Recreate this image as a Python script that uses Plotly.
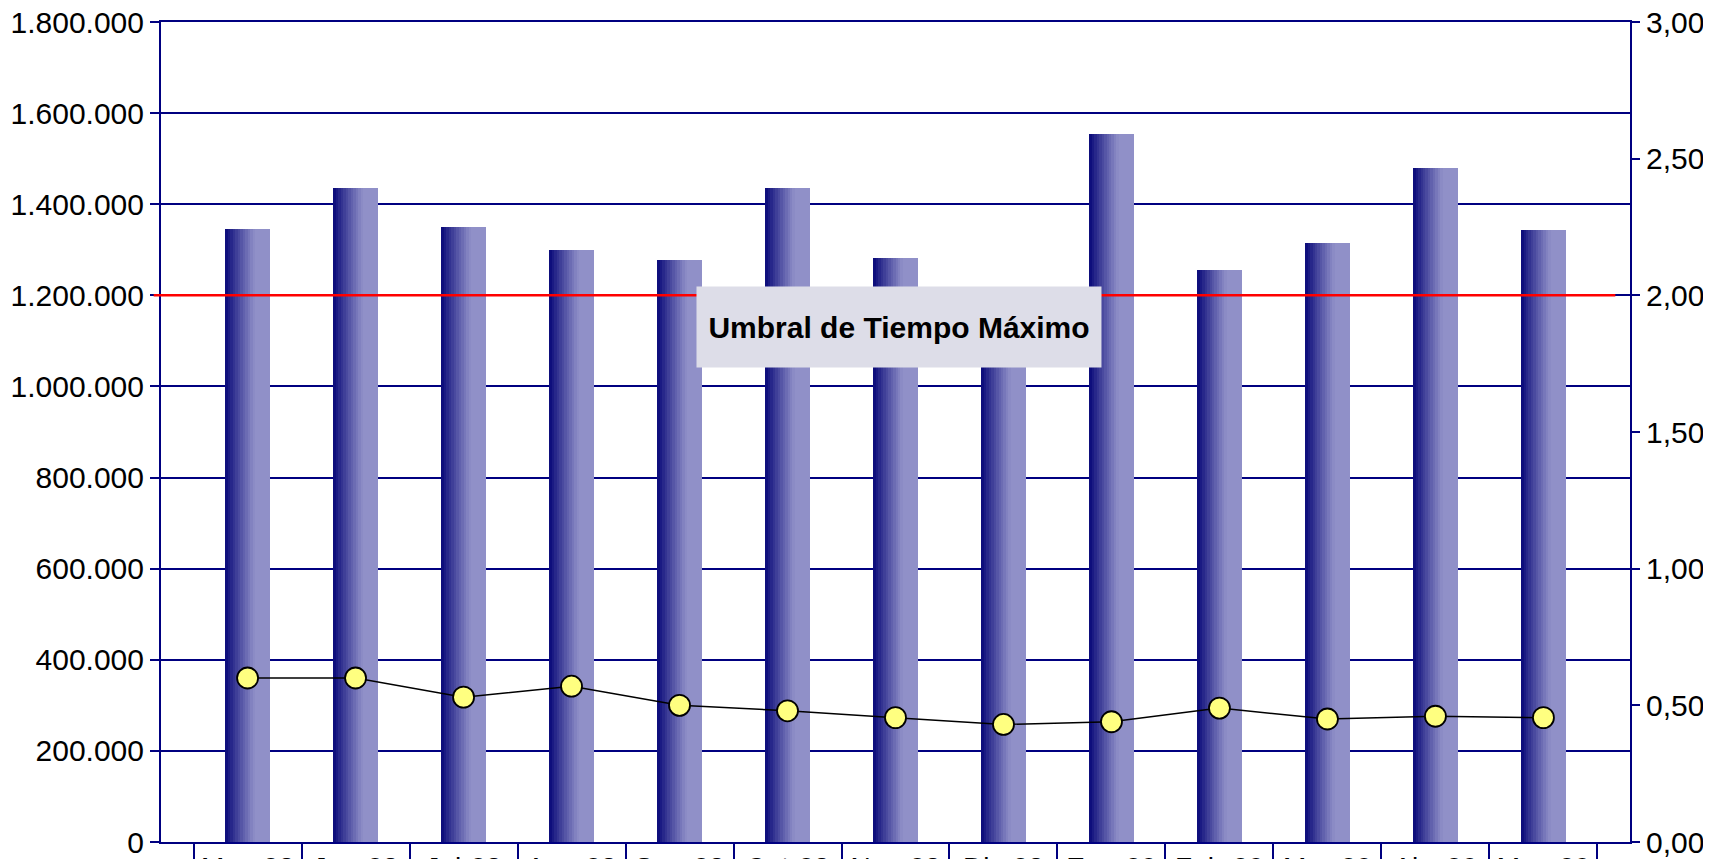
import plotly.graph_objects as go

meses = ["May-08", "Jun-08", "Jul-08", "Ago-08", "Sep-08", "Oct-08", "Nov-08",
         "Dic-08", "Ene-09", "Feb-09", "Mar-09", "Abr-09", "May-09"]
volumen = [1345000, 1435000, 1350000, 1300000, 1278000, 1435000, 1281000,
           1180000, 1555000, 1255000, 1315000, 1480000, 1343000]
tiempo = [0.60, 0.60, 0.53, 0.57, 0.50, 0.48, 0.455, 0.43, 0.44, 0.49, 0.45, 0.46, 0.455]
umbral = 1200000
umbral_texto = "Umbral de Tiempo Máximo"

NAVY = "#000080"
FONT = "Liberation Sans, Arial, sans-serif"

fig = go.Figure()

# bars drawn as vertical slices to imitate the horizontal gradient
bar_w = 0.415
n = 18
dark = (14, 14, 124)
light = (144, 144, 200)
for i in range(n):
    t = i / (n - 1)
    t = min(1.0, t / 0.68)
    t = 1 - (1 - t) ** 1.1
    c = tuple(round(dark[k] + (light[k] - dark[k]) * t) for k in range(3))
    fig.add_trace(go.Bar(
        x=meses, y=volumen, width=bar_w / n * 1.05,
        offset=-bar_w / 2 + i * bar_w / n,
        marker=dict(color="rgb(%d,%d,%d)" % c, line=dict(width=0)),
        showlegend=False, hoverinfo="skip" if i else None,
    ))

fig.add_trace(go.Scatter(
    x=meses, y=tiempo, yaxis="y2", mode="lines+markers",
    line=dict(color="black", width=1.5),
    marker=dict(size=21, color="#FFFF80", line=dict(color="black", width=1.8)),
    showlegend=False,
))

fig.add_shape(type="line", xref="paper", yref="y", x0=-0.005, x1=0.99,
              y0=umbral, y1=umbral, line=dict(color="#FF0000", width=2.5))

fig.add_annotation(xref="paper", yref="y", x=0.5024, y=1130000, text="<b>%s</b>" % umbral_texto,
                   showarrow=False, bgcolor="#DDDDE8", width=400, height=76, borderpad=2,
                   font=dict(family=FONT, size=30, color="black"))

# page body has an 8px default margin, so the figure is 8px smaller than the window
fig.update_layout(
    width=1703, height=851,
    margin=dict(l=153, r=81, t=14, b=17),
    paper_bgcolor="white", plot_bgcolor="white",
    barmode="overlay", bargap=0,
    separators=",.",
    font=dict(family=FONT, size=30, color="black"),
    xaxis=dict(type="category", showline=True, mirror=True, linecolor=NAVY, linewidth=2,
               ticks="outside", tickson="boundaries", ticklen=24, tickwidth=2,
               tickcolor=NAVY, showgrid=False, ticklabelstandoff=-1,
               ticklabeloverflow="allow",
               tickfont=dict(size=28), automargin=False),
    yaxis=dict(range=[0, 1800000], dtick=200000, tickformat=",d",
               showline=True, linecolor=NAVY, linewidth=2,
               gridcolor=NAVY, gridwidth=2, ticks="outside", ticklen=9,
               tickwidth=2, tickcolor=NAVY, zeroline=False, automargin=False,
               ticklabeloverflow="allow"),
    yaxis2=dict(range=[0, 3], dtick=0.5, tickformat=".2f", overlaying="y",
                side="right", showline=True, linecolor=NAVY, linewidth=2,
                showgrid=False, ticks="outside", ticklen=8, tickwidth=2,
                tickcolor=NAVY, zeroline=False, automargin=False,
                ticklabeloverflow="allow"),
)

fig.write_html("out.html")
